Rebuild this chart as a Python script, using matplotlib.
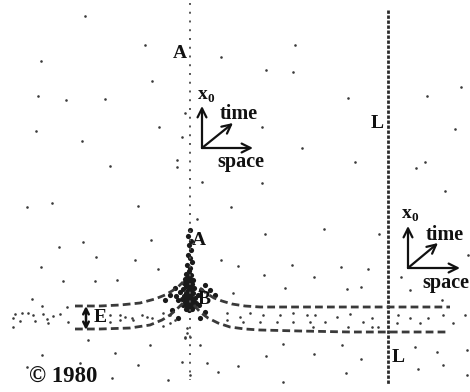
import matplotlib
matplotlib.use("Agg")
import matplotlib.pyplot as plt

# ---- data (pixel-space coordinates) ----
bg_x = [85, 41, 38, 66, 105, 36, 82, 110, 145, 152, 159, 221, 182, 177, 202, 185, 177,
        295, 266, 293, 348, 262, 302, 355, 262, 427, 461, 455, 425, 445, 416,
        265, 324, 379, 238, 264, 292, 314, 341, 368, 285, 347, 361, 401, 410, 442, 468,
        283, 342, 266, 314, 361, 238, 346, 283, 415, 437, 443, 418, 467, 467,
        27, 52, 138, 197, 83, 59, 151, 96, 135, 41, 158, 63, 95, 117, 32, 42, 221, 231,
        88, 150, 42, 115, 80, 138, 27, 182, 207, 200, 185, 112, 168, 218, 190, 233]
bg_y = [16, 61, 96, 100, 99, 131, 141, 166, 45, 81, 127, 57, 137, 167, 182, 113, 160,
        45, 70, 72, 98, 127, 148, 162, 183, 96, 87, 129, 162, 191, 168,
        234, 229, 234, 266, 275, 265, 277, 267, 269, 288, 289, 287, 277, 290, 300, 255,
        344, 345, 356, 354, 359, 366, 373, 382, 347, 352, 365, 369, 350, 375,
        207, 203, 206, 219, 242, 247, 240, 257, 260, 267, 269, 281, 281, 280, 299, 306, 260, 207,
        340, 345, 355, 353, 363, 365, 367, 362, 363, 345, 337, 378, 380, 372, 375, 293]

band_x = [67, 15, 22, 28, 33, 43, 53, 60, 13, 20, 35, 47, 48, 68, 13, 110, 120, 125, 132,
          142, 147, 152, 110, 120, 133,
          163, 170, 175, 170, 163, 227, 240, 250, 263, 280, 293, 307, 227, 243, 260, 277,
          293, 310, 187, 187, 190, 185,
          315, 325, 337, 350, 363, 372, 378, 398, 397, 410, 420, 428, 443, 453, 465, 313,
          348, 372]
band_y = [307, 314, 313, 313, 315, 314, 316, 314, 318, 321, 321, 319, 323, 322, 327, 315,
          315, 317, 318, 315, 317, 318, 322, 320, 320,
          313, 315, 320, 323, 326, 313, 317, 313, 315, 315, 313, 315, 320, 322, 322, 322,
          322, 322, 328, 333, 337, 338,
          315, 322, 317, 314, 322, 318, 327, 315, 323, 318, 323, 318, 315, 323, 315, 327,
          327, 327]

cluster_x = [190, 188, 191, 189, 191, 188, 190, 192, 187, 190, 189, 186, 191, 188, 185,
             190, 193, 187, 184, 189, 192, 186, 190, 194, 183, 188, 191, 186, 193, 189,
             184, 187, 191, 195, 182, 186, 189, 193, 185, 188, 191, 196, 183, 187, 190,
             194, 186, 189, 192, 180, 198, 178, 199, 176, 201, 175, 170, 165, 205, 210,
             215, 172, 205, 200, 178, 189, 191, 187, 190, 188, 192, 186]
cluster_y = [230, 236, 241, 245, 250, 255, 258, 262, 265, 268, 271, 274, 275, 277, 279,
             279, 280, 282, 283, 284, 284, 286, 287, 288, 289, 290, 291, 293, 293, 295,
             296, 297, 297, 298, 299, 300, 300, 301, 302, 303, 303, 303, 305, 306, 306,
             306, 309, 310, 309, 292, 295, 300, 305, 296, 290, 288, 295, 300, 285, 290,
             295, 310, 312, 318, 318, 281, 283, 298, 296, 301, 299, 304]

ul_x = [75, 100, 120, 140, 155, 165, 172, 178, 183]
ul_y = [306, 306, 305, 303, 299, 295, 291, 287, 282]
ll_x = [75, 100, 130, 150, 162, 170, 176, 180, 184]
ll_y = [329, 329, 328, 325, 320, 315, 310, 306, 302]
ur_x = [200, 206, 214, 222, 232, 245, 260, 300, 350, 450]
ur_y = [288, 293, 298, 301, 304, 306, 307, 307, 307, 307]
lr_x = [194, 200, 208, 218, 230, 245, 260, 300, 350, 448]
lr_y = [305, 312, 318, 323, 327, 329, 330, 331, 332, 332]

lineA_x = [190, 190]
lineA_y = [3, 380]
lineL_x = [388, 388]
lineL_y = [10, 385]

labels = ["A", "A", "B", "L", "L", "E"]
label_x = [180, 199, 204, 377, 398, 100]
label_y = [53, 240, 299, 123, 358, 317]

glyph_origin = [(202, 148), (408, 268)]
glyph_up = [(202, 106), (408, 226)]
glyph_right = [(253, 148), (460, 268)]
glyph_diag = [(233, 123), (438, 243)]
glyph_x0 = [(203, 94), (407, 213)]
glyph_time = [(220, 114), (426, 235)]
glyph_space = [(217, 162), (422, 283)]

E_arrow = [(86, 306), (86, 330)]
copyright_text = "© 1980"
copyright_pos = (63, 377)

# ---- drawing ----
fig = plt.figure(figsize=(4.7, 3.92), dpi=100)
ax = fig.add_axes([0, 0, 1, 1])
ax.set_xlim(0, 470)
ax.set_ylim(392, 0)
ax.axis("off")

font = dict(family="Liberation Serif", fontweight="bold", color="#111111")
dotc = "#3a3a3a"

ax.scatter(bg_x, bg_y, s=3.5, color=dotc, linewidths=0)
ax.scatter(band_x, band_y, s=3.5, color=dotc, linewidths=0)
ax.scatter(cluster_x, cluster_y, s=14, color="#1a1a1a", linewidths=0)

ax.plot(lineA_x, lineA_y, color="#555555", lw=1.4, linestyle=(0, (1, 3.5)))
ax.plot(lineL_x, lineL_y, color="#2a2a2a", lw=2.0, linestyle=(0, (1.2, 0.6)))

for xs, ys in [(ul_x, ul_y), (ll_x, ll_y), (ur_x, ur_y), (lr_x, lr_y)]:
    ax.plot(xs, ys, color="#3a3a3a", lw=2.0, linestyle=(0, (2.8, 1.5)))

for t, x, y in zip(labels, label_x, label_y):
    ax.text(x, y, t, fontsize=14, ha="center", va="center", **font)

ax.annotate("", xy=E_arrow[1], xytext=E_arrow[0],
            arrowprops=dict(arrowstyle="<->", lw=1.8, color="#111111",
                            mutation_scale=10, shrinkA=0, shrinkB=0))

for o, up, rt, dg, x0, tm, sp in zip(glyph_origin, glyph_up, glyph_right, glyph_diag,
                                     glyph_x0, glyph_time, glyph_space):
    for end in (up, rt, dg):
        ax.annotate("", xy=end, xytext=o,
                    arrowprops=dict(arrowstyle="->", lw=1.6, color="#111111",
                                    mutation_scale=16, shrinkA=0, shrinkB=0))
    ax.text(x0[0], x0[1], "x", fontsize=14, ha="center", va="center", **font)
    ax.text(x0[0] + 8, x0[1] + 5, "0", fontsize=9.5, ha="center", va="center", **font)
    ax.text(tm[0], tm[1], "time", fontsize=14.5, ha="left", va="center", **font)
    ax.text(sp[0], sp[1], "space", fontsize=14.5, ha="left", va="center", **font)

ax.text(copyright_pos[0], copyright_pos[1], copyright_text, fontsize=16.5,
        ha="center", va="center", **font)

fig.savefig("out.png", dpi=100)
